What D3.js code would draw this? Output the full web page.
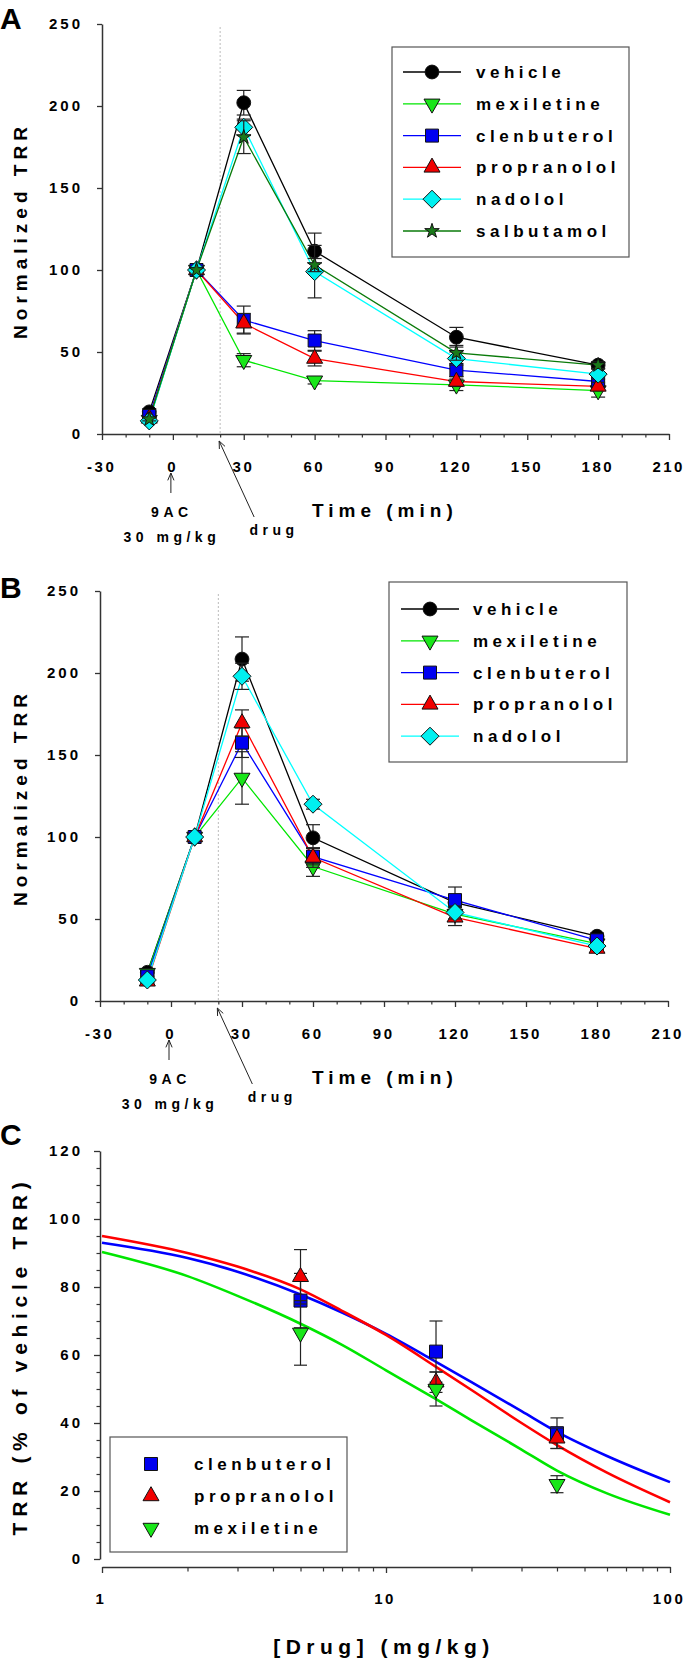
<!DOCTYPE html>
<html><head><meta charset="utf-8">
<script src="https://cdn.jsdelivr.net/npm/d3@7"></script>
<style>
body{margin:0;background:#fff}
svg{display:block}
text{font-family:"Liberation Sans",Arial,Helvetica,sans-serif;font-weight:bold;fill:#000}
</style>
</head><body>
<svg id="chart" width="685" height="1658"></svg>
<script>
// ---------- DATA ----------
const timeMin = [-10, 10, 30, 60, 120, 180];
const xTicksTime = [-30, 0, 30, 60, 90, 120, 150, 180, 210];
const xMinorTime = [-20, -10, 10, 20, 40, 50, 70, 80, 100, 110, 130, 140, 160, 170, 190, 200];
const yTicksTRR = [0, 50, 100, 150, 200, 250];

// Panel A
const seriesA = ["vehicle", "mexiletine", "clenbuterol", "propranolol", "nadolol", "salbutamol"];
const aVehicle = [13.5, 100, 202, 111.5, 59, 42];
const aVehicleErr = [2, 0, 7.5, 11, 6, 2];
const aMexiletine = [8.5, 100, 45, 32.5, 30, 26.5];
const aMexiletineErr = [1, 0, 4, 2, 3.5, 4];
const aClenbuterol = [11, 100, 69.5, 57, 39, 32];
const aClenbuterolErr = [1.5, 0, 8.5, 6, 4, 3];
const aPropranolol = [9.5, 100, 67.5, 46, 32, 29];
const aPropranololErr = [1, 0, 6, 4.5, 3, 2.5];
const aNadolol = [8, 100, 187, 99, 46, 36.5];
const aNadololErr = [1, 0, 5, 16, 4, 3];
const aSalbutamol = [9, 100, 181, 103, 49.5, 42];
const aSalbutamolErr = [1, 0, 10, 4, 4.5, 2];

// Panel B
const seriesB = ["vehicle", "mexiletine", "clenbuterol", "propranolol", "nadolol"];
const bVehicle = [17.5, 100, 208.5, 99.5, 60, 39.5];
const bVehicleErr = [2, 0, 13.5, 8, 5, 2];
const bMexiletine = [17, 100, 136, 82, 53, 35];
const bMexiletineErr = [2, 0, 16, 6, 4, 2];
const bClenbuterol = [15, 100, 157.5, 88, 61.5, 37];
const bClenbuterolErr = [2, 0, 9, 5, 8, 2];
const bPropranolol = [12, 100, 169.5, 87.5, 51, 32];
const bPropranololErr = [2, 0, 8, 6, 5, 2];
const bNadolol = [12.8, 100, 198, 120, 54, 33.5];
const bNadololErr = [2, 0, 8, 3, 4, 2];

// Panel C
const seriesC = ["clenbuterol", "propranolol", "mexiletine"];
const dosesC = [5, 15, 40];
const cClenbuterol = [76, 61, 37];
const cClenbuterolErr = [8, 9, 4.5];
const cPropranolol = [83, 52, 35.5];
const cPropranololErr = [8, 3, 3];
const cMexiletine = [66.5, 50, 22];
const cMexiletineErr = [9.5, 5, 2.5];
const curveDoses = [1, 2, 3, 5, 7, 10, 15, 20, 30, 40, 60, 100];
const fitClenbuterol = [93, 88.5, 84.5, 77.8, 72.5, 66.2, 58, 52, 43.5, 37.4, 30.3, 22.6];
const fitPropranolol = [95, 90, 86, 79.3, 73, 65.9, 56.5, 49.7, 40, 33.5, 25.4, 16.7];
const fitMexiletine = [90.3, 83.2, 77.4, 69.2, 63, 55.5, 47, 40.8, 32.2, 26, 19.3, 13];
const xTicksDose = [1, 10, 100];
const xMinorDose = [2, 3, 4, 5, 6, 7, 8, 9, 20, 30, 40, 50, 60, 70, 80, 90];
const yTicksPct = [0, 20, 40, 60, 80, 100, 120];
const yMinorPct = [5, 10, 15, 25, 30, 35, 45, 50, 55, 65, 70, 75, 85, 90, 95, 105, 110, 115];

// ---------- STYLES ----------
const style = {
  vehicle:     {line: "#000000", fill: "#000000", shape: "circle"},
  mexiletine:  {line: "#00e600", fill: "#19e619", shape: "triDown"},
  clenbuterol: {line: "#0000ff", fill: "#0000f0", shape: "square"},
  propranolol: {line: "#ff0000", fill: "#f00000", shape: "triUp"},
  nadolol:     {line: "#00ffff", fill: "#00f0f0", shape: "diamond"},
  salbutamol:  {line: "#0a7a0a", fill: "#1a7a1a", shape: "star"}
};
function shapePath(shape) {
  switch (shape) {
    case "circle": return d3.symbol(d3.symbolCircle, 150)();
    case "square": return d3.symbol(d3.symbolSquare, 169)();
    case "star": return d3.symbol(d3.symbolStar, 66)();
    case "triUp": return "M0,-9.3L8,4.7L-8,4.7Z";
    case "triDown": return "M0,9.3L8,-4.7L-8,-4.7Z";
    case "diamond": return "M0,-9L9,0L0,9L-9,0Z";
  }
}

const svg = d3.select("#chart");
const AX = "#333";

function styleAxis(g, fs, ls) {
  g.attr("font-family", null).attr("font-size", null);
  g.select(".domain").attr("stroke", AX).attr("stroke-width", 1.5);
  g.selectAll(".tick line").attr("stroke", AX).attr("stroke-width", 1.3);
  g.selectAll(".tick text").style("font-size", fs + "px").style("letter-spacing", ls + "px").attr("fill", "#000");
}

function arrow(g, x1, y1, x2, y2) {
  g.append("line").attr("x1", x1).attr("y1", y1).attr("x2", x2).attr("y2", y2)
    .attr("stroke", "#222").attr("stroke-width", 1);
  const ang = Math.atan2(y1 - y2, x1 - x2);
  [0.4, -0.4].forEach(d => {
    g.append("line").attr("x1", x2).attr("y1", y2)
      .attr("x2", x2 + 8 * Math.cos(ang + d)).attr("y2", y2 + 8 * Math.sin(ang + d))
      .attr("stroke", "#222").attr("stroke-width", 1);
  });
}

function errorBars(g, px, py0, py1, cap) {
  g.append("line").attr("x1", px).attr("x2", px).attr("y1", py0).attr("y2", py1)
    .attr("stroke", "#222").attr("stroke-width", 1.2);
  [py0, py1].forEach(v => g.append("line").attr("x1", px - cap / 2).attr("x2", px + cap / 2)
    .attr("y1", v).attr("y2", v).attr("stroke", "#222").attr("stroke-width", 1.2));
}

function legend(names, bx, by, bw, bh, row0, rowStep, lineX0, lineX1, textX, withLine) {
  const g = svg.append("g");
  g.append("rect").attr("x", bx).attr("y", by).attr("width", bw).attr("height", bh)
    .attr("fill", "#fff").attr("stroke", "#555").attr("stroke-width", 1.2);
  names.forEach((n, i) => {
    const yy = row0 + i * rowStep;
    const mx = (lineX0 + lineX1) / 2;
    if (withLine) g.append("line").attr("x1", lineX0).attr("x2", lineX1).attr("y1", yy).attr("y2", yy)
      .attr("stroke", style[n].line).attr("stroke-width", 1.3);
    g.append("path").attr("d", shapePath(style[n].shape)).attr("transform", `translate(${mx},${yy})`)
      .attr("fill", style[n].fill).attr("stroke", "#111").attr("stroke-width", 1);
    g.append("text").attr("x", textX).attr("y", yy + 6).style("font-size", "17px")
      .style("letter-spacing", "4.5px").text(n);
  });
}

function timePanel(o) {
  const g = svg.append("g");
  const x = d3.scaleLinear().domain([-30, 210]).range([o.x0, o.x1]);
  const y = d3.scaleLinear().domain([0, 250]).range([o.yb, o.yt]);

  g.append("line").attr("x1", x(20)).attr("x2", x(20)).attr("y1", o.yt + 3).attr("y2", o.yb)
    .attr("stroke", "#bbb").attr("stroke-width", 1).attr("stroke-dasharray", "2,2");

  const ya = g.append("g").attr("transform", `translate(${o.x0},0)`)
    .call(d3.axisLeft(y).tickValues(yTicksTRR).tickSize(5).tickSizeOuter(0).tickPadding(14));
  styleAxis(ya, 15, 3);
  const xm = g.append("g").attr("transform", `translate(0,${o.yb})`)
    .call(d3.axisBottom(x).tickValues(xMinorTime).tickSize(3.5).tickFormat(""));
  xm.select(".domain").remove();
  xm.selectAll(".tick line").attr("stroke", AX).attr("stroke-width", 1.2);
  const xa = g.append("g").attr("transform", `translate(0,${o.yb})`)
    .call(d3.axisBottom(x).tickValues(xTicksTime).tickSize(6).tickSizeOuter(0).tickPadding(21).tickFormat(d => String(d)));
  styleAxis(xa, 15, 2.5);
  xa.selectAll(".tick text").attr("dx", -0.8);

  const line = d3.line().x(d => x(d.t)).y(d => y(d.v));
  o.series.forEach(s => {
    g.append("path").datum(s.pts).attr("d", line).attr("fill", "none")
      .attr("stroke", style[s.name].line).attr("stroke-width", 1.3);
  });
  o.series.forEach(s => {
    s.pts.forEach(p => {
      if (p.e > 0) errorBars(g, x(p.t), y(p.v - p.e), y(p.v + p.e), 14);
    });
    s.pts.forEach(p => {
      g.append("path").attr("d", shapePath(style[s.name].shape))
        .attr("transform", `translate(${x(p.t)},${y(p.v)})`)
        .attr("fill", style[s.name].fill).attr("stroke", "#111").attr("stroke-width", 1);
    });
  });

  arrow(g, x(0) - 2, o.yb + 59, x(0) - 2, o.yb + 39);
  arrow(g, x(20) + 34, o.yb + 83, x(20) - 1, o.yb + 7);
  const ann = (tx, ty, txt, fs, ls, anchor) => g.append("text").attr("x", tx).attr("y", ty)
    .attr("text-anchor", anchor || "middle").style("font-size", fs + "px").style("letter-spacing", ls + "px").text(txt);
  ann(x(0) - 1, o.yb + 83, "9AC", 14, 4.5);
  ann(x(0) - 1, o.yb + 108, "30 mg/kg", 14, 4.5);
  ann(x(20) + 54, o.yb + 101, "drug", 14, 4.5);
  ann(312, o.yb + 83, "Time (min)", 19, 5, "start");

  g.append("text").attr("transform", `translate(27,${(o.yb + o.yt) / 2 + 1.5}) rotate(-90)`)
    .attr("text-anchor", "middle").style("font-size", "19px").style("letter-spacing", "5px").text("Normalized TRR");
  g.append("text").attr("x", 0).attr("y", o.letterY).style("font-size", "30px").text(o.letter);
}

function buildSeries(names, vals, errs) {
  return names.map((n, i) => ({name: n, pts: timeMin.map((t, j) => ({t: t, v: vals[i][j], e: errs[i][j]}))}));
}

// Panel A
timePanel({
  x0: 102, x1: 669, yb: 434, yt: 24, letter: "A", letterY: 29,
  series: buildSeries(seriesA,
    [aVehicle, aMexiletine, aClenbuterol, aPropranolol, aNadolol, aSalbutamol],
    [aVehicleErr, aMexiletineErr, aClenbuterolErr, aPropranololErr, aNadololErr, aSalbutamolErr])
});
legend(seriesA, 392, 47, 237, 210, 72, 31.8, 403, 461, 476, true);

// Panel B
timePanel({
  x0: 100, x1: 668, yb: 1001, yt: 591, letter: "B", letterY: 598,
  series: buildSeries(seriesB,
    [bVehicle, bMexiletine, bClenbuterol, bPropranolol, bNadolol],
    [bVehicleErr, bMexiletineErr, bClenbuterolErr, bPropranololErr, bNadololErr])
});
legend(seriesB, 389, 582, 238, 180, 609, 31.8, 401, 459, 473, true);

// Panel C
(function () {
  const g = svg.append("g");
  const x = d3.scaleLog().domain([1, 100]).range([102, 670]);
  const y = d3.scaleLinear().domain([0, 120]).range([1559, 1151]);
  const ym = g.append("g").attr("transform", "translate(100,0)")
    .call(d3.axisLeft(y).tickValues(yMinorPct).tickSize(3.5).tickFormat(""));
  ym.select(".domain").remove();
  ym.selectAll(".tick line").attr("stroke", AX).attr("stroke-width", 1.2);
  const ya = g.append("g").attr("transform", "translate(100,0)")
    .call(d3.axisLeft(y).tickValues(yTicksPct).tickSize(6).tickSizeOuter(0).tickPadding(11).tickFormat(d => String(d)));
  styleAxis(ya, 15, 3);
  const xm = g.append("g").attr("transform", "translate(0,1567)")
    .call(d3.axisBottom(x).tickValues(xMinorDose).tickSize(4.5).tickFormat(""));
  xm.select(".domain").remove();
  xm.selectAll(".tick line").attr("stroke", AX).attr("stroke-width", 1.2);
  const xa = g.append("g").attr("transform", "translate(0,1567)")
    .call(d3.axisBottom(x).tickValues(xTicksDose).tickSize(6).tickSizeOuter(0).tickPadding(20).tickFormat(d => String(d)));
  styleAxis(xa, 15, 2.5);
  xa.selectAll(".tick text").attr("dx", -1.5);

  const curve = d3.line().x(d => x(d.d)).y(d => y(d.v)).curve(d3.curveMonotoneX);
  const fits = {clenbuterol: fitClenbuterol, propranolol: fitPropranolol, mexiletine: fitMexiletine};
  ["clenbuterol", "propranolol", "mexiletine"].forEach(n => {
    g.append("path").datum(curveDoses.map((d, i) => ({d: d, v: fits[n][i]})))
      .attr("d", curve).attr("fill", "none").attr("stroke", style[n].line).attr("stroke-width", 2.6);
  });
  const vals = {clenbuterol: [cClenbuterol, cClenbuterolErr], propranolol: [cPropranolol, cPropranololErr], mexiletine: [cMexiletine, cMexiletineErr]};
  seriesC.forEach(n => {
    dosesC.forEach((d, i) => {
      const v = vals[n][0][i], e = vals[n][1][i];
      errorBars(g, x(d), y(v - e), y(v + e), 13);
    });
    dosesC.forEach((d, i) => {
      g.append("path").attr("d", shapePath(style[n].shape))
        .attr("transform", `translate(${x(d)},${y(vals[n][0][i])})`)
        .attr("fill", style[n].fill).attr("stroke", "#111").attr("stroke-width", 1);
    });
  });

  g.append("text").attr("transform", `translate(27,1356) rotate(-90)`)
    .attr("text-anchor", "middle").style("font-size", "21px").style("letter-spacing", "5.7px")
    .text("TRR (% of vehicle TRR)");
  g.append("text").attr("x", 384).attr("y", 1654).attr("text-anchor", "middle")
    .style("font-size", "21px").style("letter-spacing", "5.5px").text("[Drug] (mg/kg)");
  g.append("text").attr("x", 0).attr("y", 1145).style("font-size", "30px").text("C");
})();
legend(seriesC, 110, 1437, 237, 115, 1464, 32, 151, 151, 194, false);
</script>
</body></html>
